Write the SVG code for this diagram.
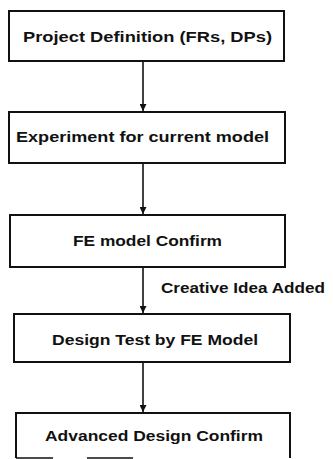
<svg xmlns="http://www.w3.org/2000/svg" width="333" height="459" viewBox="0 0 333 459">
<style>
.box{fill:#fff;stroke:#111;stroke-width:2}
.t{font-family:"Liberation Sans",Arial,sans-serif;font-weight:bold;font-size:14px;fill:#111}
.c{stroke:#111;stroke-width:1.6;fill:none}
</style>
<defs>
<marker id="ah" viewBox="0 0 8 8" refX="8" refY="4" markerWidth="7" markerHeight="7" markerUnits="userSpaceOnUse" orient="auto">
<path d="M0,0 L8,4 L0,8 Z" fill="#111"/>
</marker>
</defs>
<rect width="333" height="459" fill="#fff"/>
<g id="connectors">
<line class="c" x1="143" y1="61" x2="143" y2="111" marker-end="url(#ah)"/>
<line class="c" x1="143" y1="163" x2="143" y2="214" marker-end="url(#ah)"/>
<line class="c" x1="143" y1="267" x2="143" y2="313" marker-end="url(#ah)"/>
<line class="c" x1="143" y1="362" x2="143" y2="412" marker-end="url(#ah)"/>
<text class="t" x="161" y="293" textLength="164" lengthAdjust="spacingAndGlyphs">Creative Idea Added</text>
</g>
<g id="n1">
<rect class="box" x="9" y="11" width="275" height="50"/>
<text class="t" x="23" y="42" textLength="249" lengthAdjust="spacingAndGlyphs">Project Definition (FRs, DPs)</text>
</g>
<g id="n2">
<rect class="box" x="9" y="112" width="276" height="51"/>
<text class="t" x="16" y="142" textLength="253" lengthAdjust="spacingAndGlyphs">Experiment for current model</text>
</g>
<g id="n3">
<rect class="box" x="10" y="215" width="275" height="52"/>
<text class="t" x="73" y="246" textLength="149" lengthAdjust="spacingAndGlyphs">FE model Confirm</text>
</g>
<g id="n4">
<rect class="box" x="14" y="314" width="276" height="48"/>
<text class="t" x="52" y="345" textLength="206" lengthAdjust="spacingAndGlyphs">Design Test by FE Model</text>
</g>
<g id="n5">
<path class="box" d="M16,458 L16,413 L290,413 L290,458"/>
<path class="c" d="M16,458 L53,458 M87,458 L133,458"/>
<text class="t" x="45" y="441" textLength="218" lengthAdjust="spacingAndGlyphs">Advanced Design Confirm</text>
</g>
</svg>
